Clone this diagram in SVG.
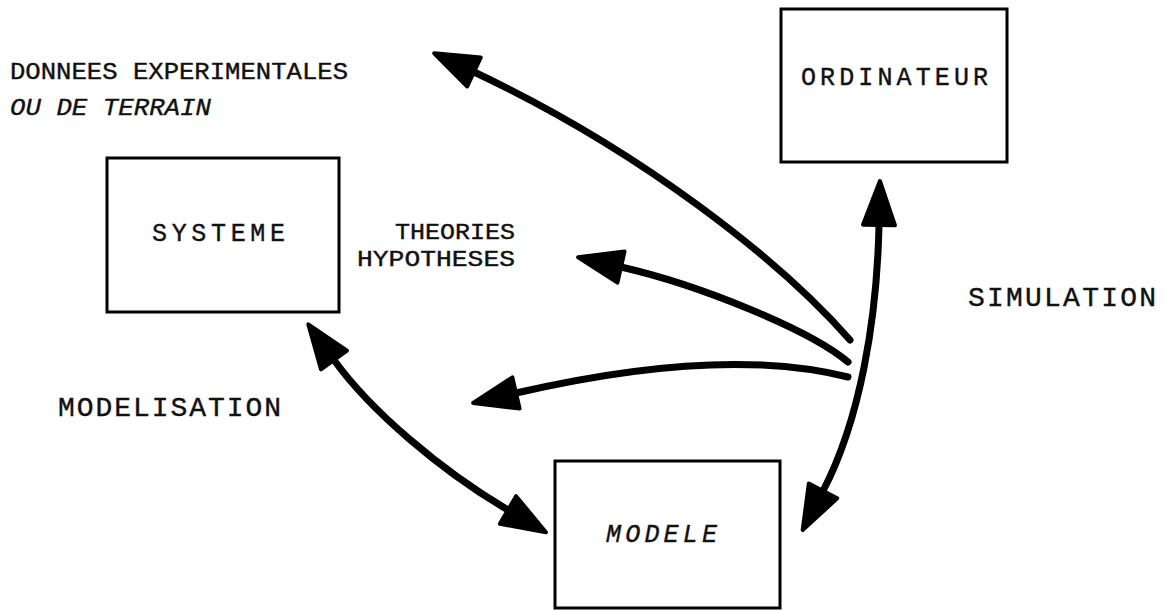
<svg xmlns="http://www.w3.org/2000/svg" width="1166" height="610" viewBox="0 0 1166 610">
  <style>
    .box { fill: #fff; stroke: #000; stroke-width: 3; }
    .lbl { font-family: "Liberation Mono", "Courier New", monospace; fill: #111; stroke: #111; stroke-width: 0.4; }
    .it { font-style: italic; }
    .conn { fill: none; stroke: #000; stroke-width: 7; stroke-linecap: round; }
  </style>
  <defs>
    <marker id="ah" markerUnits="userSpaceOnUse" markerWidth="60" markerHeight="40" viewBox="0 0 60 40" refX="2" refY="20" orient="auto-start-reverse" overflow="visible">
      <path d="M2,4 L46,20 L2,36 Z" fill="#000" stroke="#000" stroke-width="4" stroke-linejoin="round"/>
    </marker>
  </defs>
  <rect width="1166" height="610" fill="#fff"/>

  <g id="labels">
    <text class="lbl" x="10" y="79" font-size="24" textLength="338" lengthAdjust="spacingAndGlyphs">DONNEES EXPERIMENTALES</text>
    <text class="lbl it" x="10" y="115" font-size="24" textLength="201" lengthAdjust="spacingAndGlyphs">OU DE TERRAIN</text>
    <text class="lbl" x="395" y="239" font-size="22" textLength="120" lengthAdjust="spacingAndGlyphs">THEORIES</text>
    <text class="lbl" x="357" y="266" font-size="22" textLength="158" lengthAdjust="spacingAndGlyphs">HYPOTHESES</text>
    <text class="lbl" x="968" y="306" font-size="28" textLength="188" lengthAdjust="spacing">SIMULATION</text>
    <text class="lbl" x="58" y="416" font-size="28" textLength="223" lengthAdjust="spacing">MODELISATION</text>
  </g>

  <g id="node-ordinateur">
    <rect class="box" x="781" y="9" width="226" height="153"/>
    <text class="lbl" x="801" y="85" font-size="25" textLength="187" lengthAdjust="spacing">ORDINATEUR</text>
  </g>
  <g id="node-systeme">
    <rect class="box" x="107" y="158" width="232" height="154"/>
    <text class="lbl" x="152" y="241" font-size="25" textLength="133" lengthAdjust="spacing">SYSTEME</text>
  </g>
  <g id="node-modele">
    <rect class="box" x="555" y="461" width="225" height="147"/>
    <text class="lbl it" x="606" y="542" font-size="25" textLength="111" lengthAdjust="spacing">MODELE</text>
  </g>

  <g id="connectors">
    <path class="conn" d="M850,340 C780,260 640,150 474,72" marker-end="url(#ah)"/>
    <path class="conn" d="M848,362 C810,330 700,285 621,267" marker-end="url(#ah)"/>
    <path class="conn" d="M848,377 C780,360 680,355 516,393" marker-end="url(#ah)"/>
    <path class="conn" d="M334,360 C370,410 440,470 508,510" marker-start="url(#ah)" marker-end="url(#ah)"/>
    <path class="conn" d="M879,225 C877,320 860,420 823,491" marker-start="url(#ah)" marker-end="url(#ah)"/>
  </g>
</svg>
